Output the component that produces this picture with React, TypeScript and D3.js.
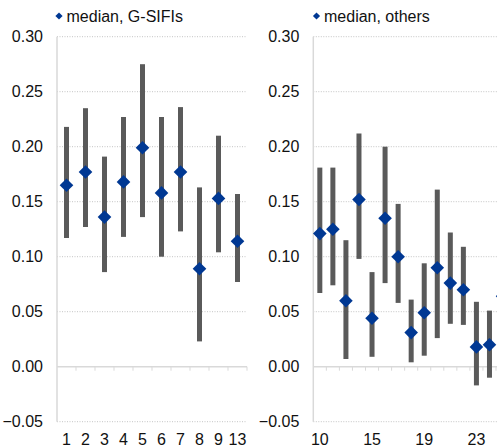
import React from "react";
import * as d3 from "d3";

const leftCats = ["1", "2", "3", "4", "5", "6", "7", "8", "9", "13"];
const leftLow = [0.117, 0.127, 0.086, 0.118, 0.136, 0.1, 0.123, 0.023, 0.104, 0.077];
const leftHigh = [0.218, 0.235, 0.191, 0.227, 0.275, 0.227, 0.236, 0.163, 0.21, 0.157];
const leftMedian = [0.165, 0.177, 0.136, 0.168, 0.199, 0.158, 0.177, 0.089, 0.153, 0.114];

const rightCats = ["10", "11", "12", "14", "15", "16", "17", "18", "19", "20", "21", "22", "23", "24", "25"];
const rightLow = [0.067, 0.074, 0.007, 0.098, 0.009, 0.076, 0.058, 0.004, 0.01, 0.026, 0.039, 0.038, -0.017, -0.01, 0.03];
const rightHigh = [0.181, 0.181, 0.115, 0.212, 0.086, 0.2, 0.148, 0.061, 0.094, 0.161, 0.122, 0.109, 0.059, 0.051, 0.1];
const rightMedian = [0.121, 0.125, 0.06, 0.152, 0.044, 0.135, 0.1, 0.031, 0.049, 0.09, 0.076, 0.07, 0.018, 0.02, 0.064];
const rightShownLabels = ["10", "15", "19", "23"];

const yTicks = [-0.05, 0, 0.05, 0.1, 0.15, 0.2, 0.25, 0.3];

const FONT = "'Liberation Sans', Arial, sans-serif";
const BAR = "#5a5a5a";
const BLUE = "#003893";

const y = d3.scaleLinear().domain([-0.05, 0.3]).range([421.7, 36.7]);

type PanelProps = {
  cats: string[];
  low: number[];
  high: number[];
  med: number[];
  x0: number;
  step: number;
  plotRight: number;
  legend: string;
  legendX: number;
  shown?: string[];
};

function Panel({ cats, low, high, med, x0, step, plotRight, legend, legendX, shown }: PanelProps) {
  const x = d3
    .scaleBand<string>()
    .domain(cats)
    .range([x0, x0 + step * cats.length])
    .paddingInner(0)
    .paddingOuter(0);
  const bw = x.bandwidth();
  const cx = (c: string) => (x(c) as number) + bw / 2;
  const diamond = (r: number) => `M0,${-r}L${r},0L0,${r}L${-r},0Z`;
  const fmt = d3.format(".2f");
  return (
    <g>
      {/* gridlines */}
      {yTicks
        .filter((t) => t !== 0)
        .map((t) => (
          <line
            key={"g" + t}
            x1={x0}
            x2={plotRight}
            y1={y(t)}
            y2={y(t)}
            stroke="#c4c4c4"
            strokeWidth={1}
            strokeDasharray="1 1.5"
          />
        ))}
      {/* y axis line */}
      <line x1={x0} x2={x0} y1={y(0.3)} y2={y(-0.05)} stroke="#d9d9d9" strokeWidth={1.5} />
      {/* zero line */}
      <line x1={x0} x2={plotRight} y1={y(0)} y2={y(0)} stroke="#d9d9d9" strokeWidth={1.5} />
      {cats.map((c, i) => (
        <line
          key={"t" + c}
          x1={(x(c) as number) + bw}
          x2={(x(c) as number) + bw}
          y1={y(0)}
          y2={y(0) + 4}
          stroke="#d9d9d9"
          strokeWidth={1}
        />
      ))}
      {/* y tick labels */}
      {yTicks.map((t) => (
        <text
          key={"l" + t}
          x={x0 - 14}
          y={y(t)}
          dy="0.35em"
          textAnchor="end"
          fontFamily={FONT}
          fontSize={16}
          fill="#111"
        >
          {fmt(t)}
        </text>
      ))}
      {/* range bars */}
      {cats.map((c, i) => (
        <rect
          key={"b" + c}
          x={cx(c) - 2.5}
          width={5}
          y={y(high[i])}
          height={y(low[i]) - y(high[i])}
          fill={BAR}
        />
      ))}
      {/* medians */}
      {cats.map((c, i) => (
        <path key={"m" + c} d={diamond(6.8)} transform={`translate(${cx(c)},${y(med[i])})`} fill={BLUE} />
      ))}
      {/* x labels */}
      {cats
        .filter((c) => !shown || shown.includes(c))
        .map((c) => (
          <text
            key={"x" + c}
            x={cx(c)}
            y={445}
            textAnchor="middle"
            fontFamily={FONT}
            fontSize={16}
            fill="#111"
          >
            {c}
          </text>
        ))}
      {/* legend */}
      <path d={diamond(3.6)} transform={`translate(${legendX},16)`} fill={BLUE} />
      <text x={legendX + 7.5} y={21.5} fontFamily={FONT} fontSize={16} fill="#111">
        {legend}
      </text>
    </g>
  );
}

export default function App() {
  return (
    <svg
      width={497}
      height={447}
      style={{ position: "absolute", left: 0, top: 0, display: "block", background: "#fff" }}
    >
      <rect width={497} height={447} fill="#fff" />
      <Panel
        cats={leftCats}
        low={leftLow}
        high={leftHigh}
        med={leftMedian}
        x0={57}
        step={19}
        plotRight={247}
        legend="median, G-SIFIs"
        legendX={59}
      />
      <Panel
        cats={rightCats}
        low={rightLow}
        high={rightHigh}
        med={rightMedian}
        x0={313.3}
        step={13.05}
        plotRight={313.3 + 13.05 * 15}
        legend="median, others"
        legendX={316.5}
        shown={rightShownLabels}
      />
    </svg>
  );
}
